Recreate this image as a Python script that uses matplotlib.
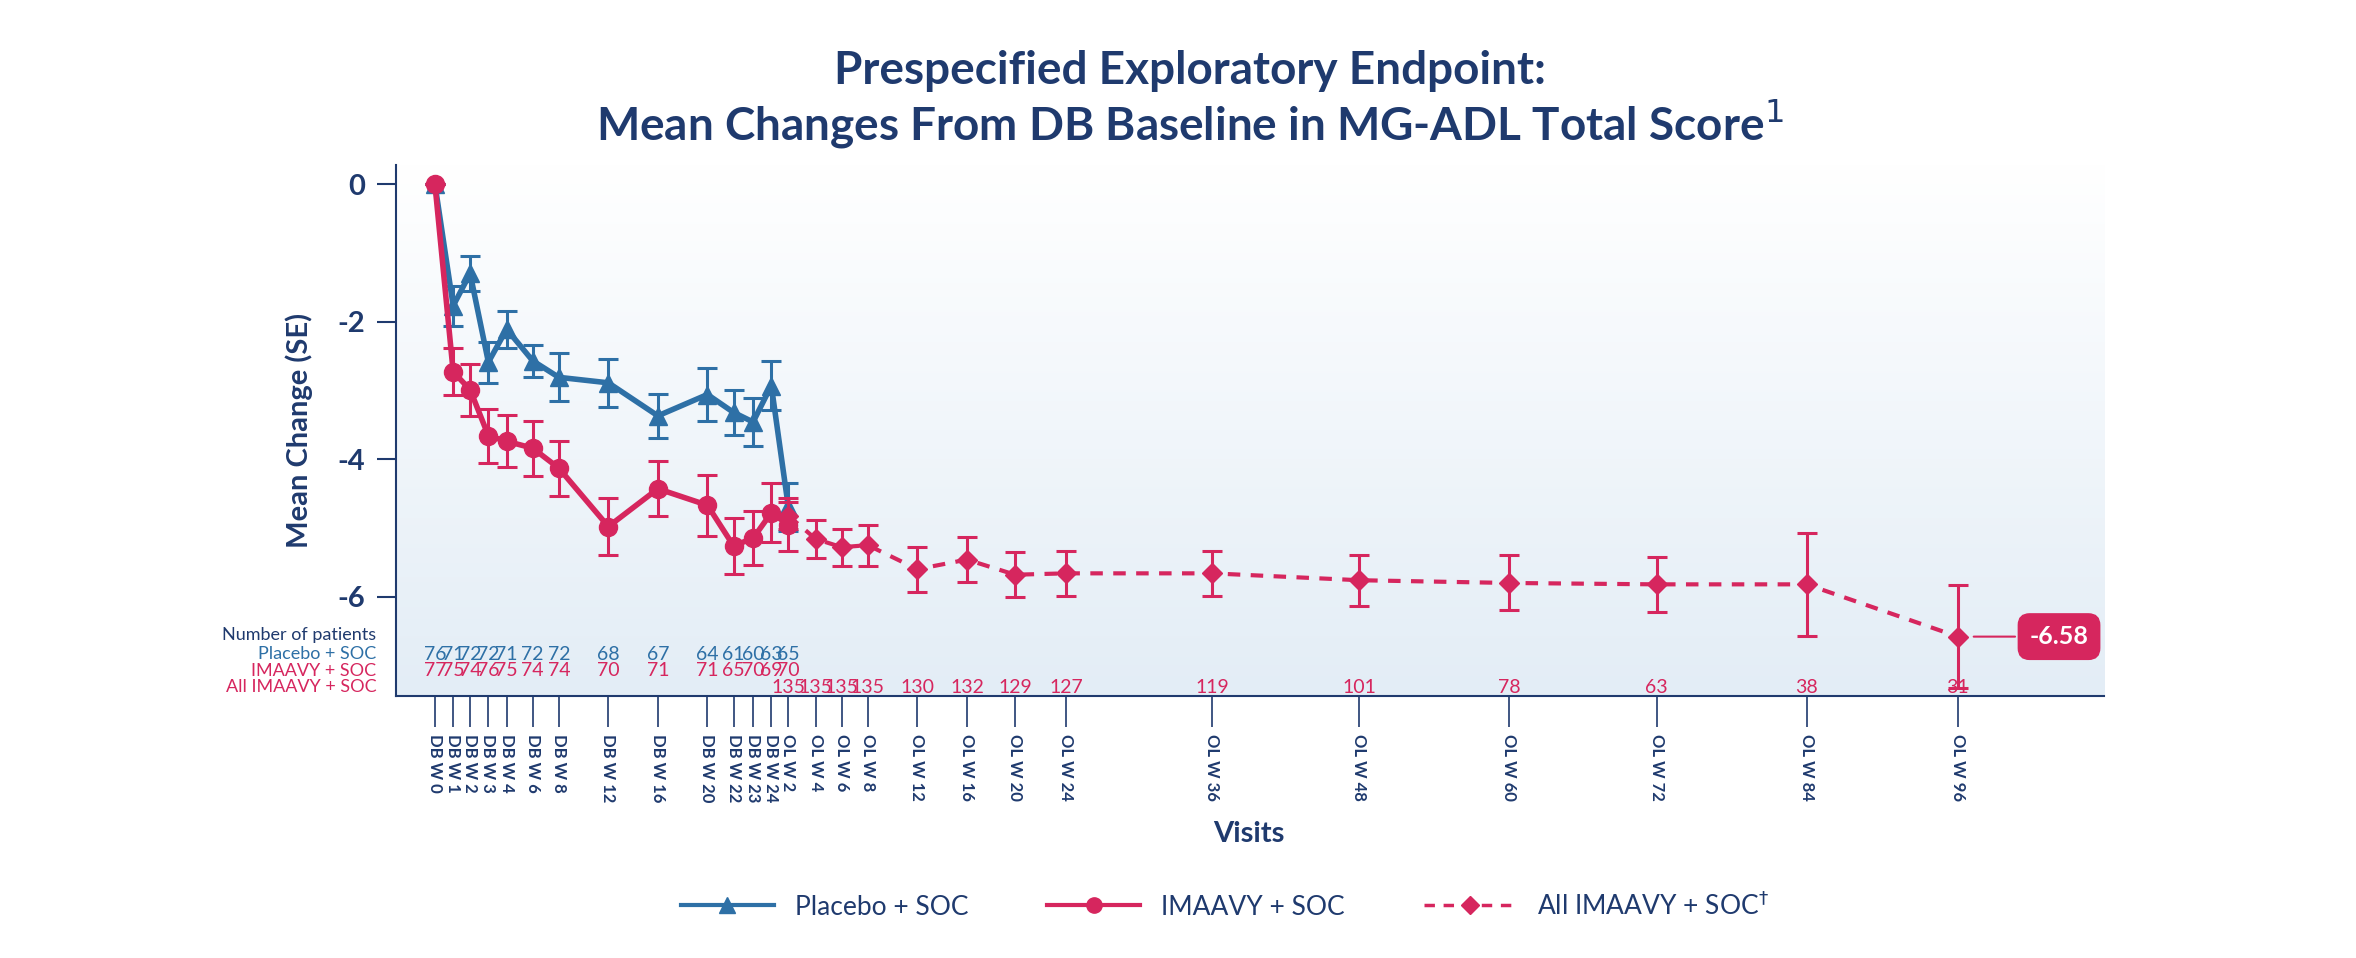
import numpy as np
import matplotlib
matplotlib.use("Agg")
import matplotlib.pyplot as plt
from matplotlib.lines import Line2D

plt.rcParams['font.family'] = ['Lato', 'DejaVu Sans']

NAVY = '#1f3a6e'
BLUE = '#2e70a6'
RED = '#d6265e'

# visits and their spacing on the x axis
visits = ['DB W 0', 'DB W 1', 'DB W 2', 'DB W 3', 'DB W 4', 'DB W 6', 'DB W 8', 'DB W 12',
          'DB W 16', 'DB W 20', 'DB W 22', 'DB W 23', 'DB W 24', 'OL W 2', 'OL W 4', 'OL W 6',
          'OL W 8', 'OL W 12', 'OL W 16', 'OL W 20', 'OL W 24', 'OL W 36', 'OL W 48', 'OL W 60',
          'OL W 72', 'OL W 84', 'OL W 96']
visit_pos = [0, 1.4, 2.7, 4.1, 5.5, 7.5, 9.5, 13.3, 17.1, 20.9, 22.9, 24.4, 25.8, 27.1, 29.2,
             31.2, 33.2, 37.0, 40.8, 44.5, 48.4, 59.6, 70.9, 82.4, 93.7, 105.2, 116.8]

# Placebo + SOC (DB W0 .. OL W2)
placebo_mean = [0, -1.77, -1.30, -2.59, -2.11, -2.57, -2.81, -2.89, -3.37, -3.06, -3.32, -3.46, -2.93, -4.69]
placebo_se = [0, 0.29, 0.26, 0.30, 0.27, 0.23, 0.35, 0.35, 0.32, 0.38, 0.33, 0.35, 0.35, 0.35]
placebo_n = [76, 71, 72, 72, 71, 72, 72, 68, 67, 64, 61, 60, 63, 65]

# IMAAVY + SOC (DB W0 .. OL W2)
imaavy_mean = [0, -2.73, -2.99, -3.66, -3.74, -3.84, -4.13, -4.98, -4.43, -4.67, -5.26, -5.15, -4.78, -4.95]
imaavy_se = [0, 0.34, 0.38, 0.39, 0.38, 0.40, 0.40, 0.41, 0.40, 0.44, 0.41, 0.39, 0.43, 0.39]
imaavy_n = [77, 75, 74, 76, 75, 74, 74, 70, 71, 71, 65, 70, 69, 70]

# All IMAAVY + SOC (OL W2 .. OL W96)
all_mean = [-4.82, -5.16, -5.28, -5.25, -5.60, -5.46, -5.68, -5.66, -5.66, -5.76, -5.80, -5.82, -5.82, -6.58]
all_se = [0.20, 0.27, 0.27, 0.30, 0.33, 0.33, 0.33, 0.33, 0.33, 0.37, 0.40, 0.40, 0.75, 0.75]
all_n = [135, 135, 135, 135, 130, 132, 129, 127, 119, 101, 78, 63, 38, 31]

fig = plt.figure(figsize=(23.56, 9.58), dpi=100)
ax = fig.add_axes([0.168, 0.273, 0.725, 0.555])

xmin, xmax, ymin, ymax = -3, 128, -7.45, 0.28
grad = np.linspace(0, 1, 256).reshape(-1, 1)
cmap = matplotlib.colors.LinearSegmentedColormap.from_list('bg', ['#ffffff', '#e3edf6'])
ax.imshow(grad, extent=[xmin, xmax, ymin, ymax], origin='upper', aspect='auto', cmap=cmap, zorder=0)

xp = visit_pos[:14]
xa = visit_pos[13:]
ax.errorbar(xp, placebo_mean, yerr=placebo_se, color=BLUE, lw=4, marker='^', ms=13,
            capsize=7, elinewidth=2.2, capthick=2.2, zorder=3)
ax.errorbar(xp, imaavy_mean, yerr=imaavy_se, color=RED, lw=4, marker='o', ms=13,
            capsize=7, elinewidth=2.2, capthick=2.2, zorder=4)
ax.errorbar(xa, all_mean, yerr=all_se, color=RED, lw=3, ls=(0, (3, 2.5)), marker='D', ms=10,
            capsize=7, elinewidth=2.2, capthick=2.2, zorder=4)

ax.set_xlim(xmin, xmax)
ax.set_ylim(ymin, ymax)
ax.set_yticks([0, -2, -4, -6])
ax.set_yticklabels(['0', '-2', '-4', '-6'], fontsize=21, fontweight='bold', color=NAVY)
ax.tick_params(axis='y', length=14, width=1.5, color=NAVY, pad=8)
ax.set_xticks(visit_pos)
ax.set_xticklabels(visits, rotation=-90, fontsize=12, fontweight='bold', color=NAVY)
ax.tick_params(axis='x', length=22, width=1.2, color=NAVY, pad=5)
for s in ['top', 'right']:
    ax.spines[s].set_visible(False)
for s in ['left', 'bottom']:
    ax.spines[s].set_color(NAVY)
    ax.spines[s].set_linewidth(1.5)

ax.set_ylabel('Mean Change (SE)', fontsize=21, fontweight='bold', color=NAVY, labelpad=18)
fig.text(0.53, 0.129, 'Visits', ha='center', va='center', fontsize=21, fontweight='bold', color=NAVY)

# patient numbers
tr = ax.get_xaxis_transform()
for x, n in zip(xp, placebo_n):
    ax.text(x, 0.079, str(n), transform=tr, ha='center', va='center', fontsize=14, color=BLUE)
for x, n in zip(xp, imaavy_n):
    ax.text(x, 0.048, str(n), transform=tr, ha='center', va='center', fontsize=14, color=RED)
for x, n in zip(xa, all_n):
    ax.text(x, 0.017, str(n), transform=tr, ha='center', va='center', fontsize=14, color=RED)
ax.text(-4.5, 0.116, 'Number of patients', transform=tr, ha='right', va='center', fontsize=13, color=NAVY)
ax.text(-4.5, 0.079, 'Placebo + SOC', transform=tr, ha='right', va='center', fontsize=13, color=BLUE)
ax.text(-4.5, 0.048, 'IMAAVY + SOC', transform=tr, ha='right', va='center', fontsize=13, color=RED)
ax.text(-4.5, 0.017, 'All IMAAVY + SOC', transform=tr, ha='right', va='center', fontsize=13, color=RED)

# final value callout
ax.annotate(f'{all_mean[-1]:.2f}', xy=(xa[-1] + 1, all_mean[-1]), xytext=(xa[-1] + 5.5, all_mean[-1]),
            ha='left', va='center', fontsize=18, fontweight='bold', color='white',
            bbox=dict(boxstyle='round,pad=0.45', fc=RED, ec=RED),
            arrowprops=dict(arrowstyle='-', color=RED, lw=1.5), annotation_clip=False)

fig.text(0.505, 0.926, 'Prespecified Exploratory Endpoint:', ha='center', va='center',
         fontsize=33, fontweight='bold', color=NAVY)
fig.text(0.505, 0.870, 'Mean Changes From DB Baseline in MG-ADL Total Score$^{1}$', ha='center',
         va='center', fontsize=33, fontweight='bold', color=NAVY)

handles = [
    Line2D([], [], color=BLUE, lw=3, marker='^', ms=11),
    Line2D([], [], color=RED, lw=3, marker='o', ms=11),
    Line2D([], [], color=RED, lw=2.5, ls=(0, (3, 2.5)), marker='D', ms=9),
]
leg = fig.legend(handles, ['Placebo + SOC', 'IMAAVY + SOC', 'All IMAAVY + SOC$^{\u2020}$'],
                 loc='center', bbox_to_anchor=(0.52, 0.055), ncol=3, frameon=False,
                 fontsize=19, handlelength=3.5, columnspacing=3)
for t in leg.get_texts():
    t.set_color(NAVY)

fig.savefig('out.png', dpi=100)
